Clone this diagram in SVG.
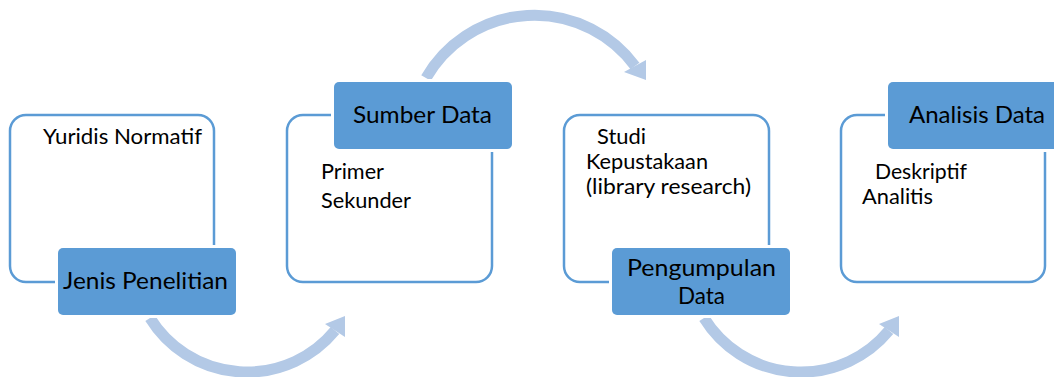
<svg xmlns="http://www.w3.org/2000/svg" width="1054" height="377" viewBox="0 0 1054 377">
<style>
.box{fill:#fff;stroke:#5B9BD5;stroke-width:2.5}
.lbl{fill:#5B9BD5;stroke:#fff;stroke-width:6;paint-order:stroke}
.arc{fill:none;stroke:#B3C9E6;stroke-width:11}
.head{fill:#B3C9E6}
text{font-family:Lato,"Liberation Sans",sans-serif;fill:#000}
.t{font-size:21px}
.h{font-size:23.5px}
</style>
<rect width="1054" height="377" fill="#fff"/>
<g id="connectors">
  <path class="arc" d="M150,318 A114,114 0 0,0 335,330.5"/>
  <polygon class="head" points="325,324 345,316 345,337"/>
  <path class="arc" d="M426,78 A125,125 0 0,1 635,66"/>
  <polygon class="head" points="624,72 646,60 646,80"/>
  <g transform="translate(554,0)">
    <path class="arc" d="M150,318 A114,114 0 0,0 335,330.5"/>
    <polygon class="head" points="325,324 345,316 345,337"/>
  </g>
</g>
<g id="node1">
  <rect class="box" x="10" y="115" width="204" height="167" rx="16"/>
  <text class="t" x="43" y="144" textLength="159" lengthAdjust="spacingAndGlyphs">Yuridis Normatif</text>
  <rect class="lbl" x="58" y="248" width="178" height="67" rx="5"/>
  <text class="h" x="63" y="289" textLength="165" lengthAdjust="spacingAndGlyphs">Jenis Penelitian</text>
</g>
<g id="node2">
  <rect class="box" x="287" y="115" width="205" height="167" rx="16"/>
  <text class="t" x="321" y="179" textLength="63" lengthAdjust="spacingAndGlyphs">Primer</text>
  <text class="t" x="321" y="208" textLength="90" lengthAdjust="spacingAndGlyphs">Sekunder</text>
  <rect class="lbl" x="334" y="82" width="178" height="67" rx="5"/>
  <text class="h" x="353" y="123" textLength="139" lengthAdjust="spacingAndGlyphs">Sumber Data</text>
</g>
<g id="node3">
  <rect class="box" x="564" y="115" width="205" height="167" rx="16"/>
  <text class="t" x="597" y="144" textLength="49" lengthAdjust="spacingAndGlyphs">Studi</text>
  <text class="t" x="586" y="169" textLength="122" lengthAdjust="spacingAndGlyphs">Kepustakaan</text>
  <text class="t" x="586" y="194" textLength="165" lengthAdjust="spacingAndGlyphs">(library research)</text>
  <rect class="lbl" x="612" y="248" width="178" height="67" rx="5"/>
  <text class="h" x="627" y="276" textLength="149" lengthAdjust="spacingAndGlyphs">Pengumpulan</text>
  <text class="h" x="678" y="304" textLength="47" lengthAdjust="spacingAndGlyphs">Data</text>
</g>
<g id="node4">
  <rect class="box" x="841" y="115" width="204" height="167" rx="16"/>
  <text class="t" x="875" y="179" textLength="92" lengthAdjust="spacingAndGlyphs">Deskriptif</text>
  <text class="t" x="862" y="204" textLength="71" lengthAdjust="spacingAndGlyphs">Analitis</text>
  <rect class="lbl" x="888" y="82" width="178" height="67" rx="5"/>
  <text class="h" x="909" y="123" textLength="136" lengthAdjust="spacingAndGlyphs">Analisis Data</text>
</g>
</svg>
